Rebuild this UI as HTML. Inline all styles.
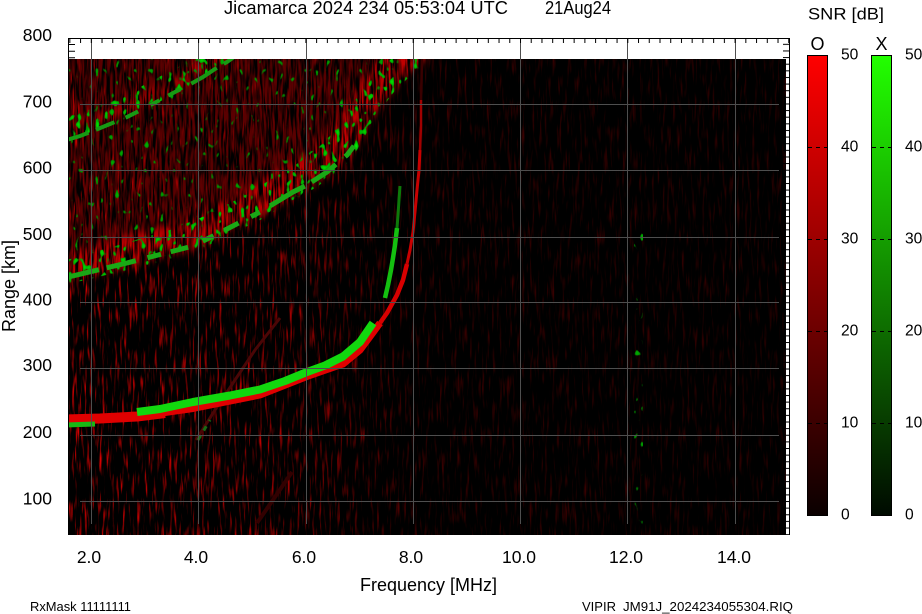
<!DOCTYPE html>
<html><head><meta charset="utf-8">
<style>
html,body{margin:0;padding:0;background:#fff;}
svg{display:block;}
text{font-family:"Liberation Sans",Arial,sans-serif;fill:#000;}
</style></head>
<body>
<svg width="922" height="614" viewBox="0 0 922 614" xmlns="http://www.w3.org/2000/svg">
<defs>
<clipPath id="img"><rect x="69" y="59" width="717" height="476"/></clipPath>
<filter id="nz" filterUnits="userSpaceOnUse" x="69" y="59" width="717" height="476" color-interpolation-filters="sRGB">
 <feTurbulence type="fractalNoise" baseFrequency="0.4 0.04" numOctaves="2" seed="7"/>
 <feColorMatrix type="matrix" values="3.2 0 0 0 -1.72  0 0 0 0 0  0 0 0 0 0  0 0 0 0 1"/>
</filter>
<filter id="band" filterUnits="userSpaceOnUse" x="69" y="59" width="717" height="476" color-interpolation-filters="sRGB">
 <feGaussianBlur in="SourceGraphic" stdDeviation="4" result="b"/>
 <feTurbulence type="fractalNoise" baseFrequency="0.45 0.04" numOctaves="2" seed="13" result="t"/>
 <feColorMatrix in="t" type="matrix" values="0 0 0 0 0  0 0 0 0 0  0 0 0 0 0  3.6 0 0 0 -1.35" result="m"/>
 <feComposite in="b" in2="m" operator="in"/>
</filter>
<filter id="gs1" filterUnits="userSpaceOnUse" x="69" y="59" width="717" height="476" color-interpolation-filters="sRGB">
 <feTurbulence type="fractalNoise" baseFrequency="0.22 0.14" numOctaves="1" seed="4" result="t"/>
 <feColorMatrix in="t" type="matrix" values="0 0 0 0 0  1.6 0 0 0 -0.4  0 0 0 0 0  14 0 0 0 -8.2" result="m"/>
 <feComposite in="m" in2="SourceGraphic" operator="in"/>
</filter>
<filter id="gs2" filterUnits="userSpaceOnUse" x="69" y="59" width="717" height="476" color-interpolation-filters="sRGB">
 <feTurbulence type="fractalNoise" baseFrequency="0.2 0.12" numOctaves="1" seed="21" result="t"/>
 <feColorMatrix in="t" type="matrix" values="0 0 0 0 0  1.3 0 0 0 -0.38  0 0 0 0 0  14 0 0 0 -9.3" result="m"/>
 <feComposite in="m" in2="SourceGraphic" operator="in"/>
</filter>
<linearGradient id="dk" gradientUnits="userSpaceOnUse" x1="69" y1="0" x2="786" y2="0">
 <stop offset="0" stop-color="#000" stop-opacity="0.05"/>
 <stop offset="0.3" stop-color="#000" stop-opacity="0.3"/>
 <stop offset="0.48" stop-color="#000" stop-opacity="0.75"/>
 <stop offset="1" stop-color="#000" stop-opacity="0.82"/>
</linearGradient>
<linearGradient id="rg" x1="0" y1="0" x2="0" y2="1"><stop offset="0" stop-color="#ff0000"/><stop offset="1" stop-color="#0a0000"/></linearGradient>
<linearGradient id="gg" x1="0" y1="0" x2="0" y2="1"><stop offset="0" stop-color="#22ff00"/><stop offset="1" stop-color="#000a00"/></linearGradient>
<pattern id="tt" patternUnits="userSpaceOnUse" x="69.34" y="0" width="10.73" height="10"><rect x="0" y="0" width="1" height="10" fill="#000"/></pattern>
<pattern id="rt" patternUnits="userSpaceOnUse" x="0" y="37.2" width="10" height="6.626"><rect width="10" height="1" fill="#000"/></pattern>
</defs>

<!-- image area -->
<rect x="69" y="59" width="717" height="476" fill="#000"/>
<rect x="69" y="59" width="717" height="476" filter="url(#nz)"/>
<rect x="69" y="59" width="717" height="476" fill="url(#dk)"/>

<g clip-path="url(#img)">
 <!-- diffuse bands -->
 <g filter="url(#band)">
  <polygon fill="#5a0000" points="60,283 127,267 193,250 227,233 260,217 293,197 307,190 327,177 347,160 360,143 373,117 393,90 413,70 430,55 60,55"/>
  <polygon fill="#c00000" points="60,283 127,267 193,250 227,233 260,217 293,197 307,190 327,177 347,160 360,143 373,117 393,90 413,70 430,55 407,37 393,48 370,70 348,101 334,127 325,139 309,153 278,171 246,191 214,206 183,222 119,238 60,254"/>
  <polyline fill="none" stroke="#a00000" stroke-width="12" points="60,134 80,127 93,122 110,115 127,108 145,99 160,91 175,83 187,77 203,68 215,60 227,53"/>
 </g>
 <!-- green speckles -->
 <g filter="url(#gs1)">
  <polygon fill="#fff" points="60,286 127,270 193,253 227,236 260,220 293,200 307,193 327,180 347,163 360,146 373,120 393,93 413,73 430,58 405,45 370,80 348,110 334,132 320,146 300,162 270,180 240,198 205,216 170,230 119,245 60,262"/>
  <polyline fill="none" stroke="#fff" stroke-width="22" points="60,130 80,124 93,120 110,113 127,106 145,97 160,89 175,81 187,75 203,66 215,58"/>
 </g>
 <g filter="url(#gs2)">
  <polygon fill="#fff" points="60,262 119,245 170,230 205,216 240,198 270,180 300,162 320,146 334,132 348,110 370,80 400,55 60,55"/>
  <rect x="634" y="230" width="9" height="305" fill="#fff"/>
 </g>

 <!-- bright edges of bands -->
 <polyline fill="none" stroke="#1aa816" stroke-width="5" stroke-dasharray="40 8 30 12 14 10 18 16 12 12 16 14 10 12" points="60,279 127,263 193,246 227,229 260,212 293,192 307,185 327,172 347,155 360,138"/>
 <polyline fill="none" stroke="#179a14" stroke-width="4" stroke-dasharray="30 8 20 12 14 14 10 10 14 12" points="60,142 80,136 93,131 110,124 127,117 145,108 160,100 175,92 187,86 203,77 215,69 227,62 234,57"/>

 <!-- faint traces -->
 <polyline fill="none" stroke="#4a0606" stroke-width="3" points="196,440 215,410 235,380 255,350 280,318"/>
 <polyline fill="none" stroke="#1a6a14" stroke-width="3" stroke-dasharray="5 6" points="198,440 210,420"/>
 <polyline fill="none" stroke="#320000" stroke-width="4" points="257,523 275,497 292,472"/>

 <!-- main O trace (red) -->
 <polyline fill="none" stroke="#e00000" stroke-width="10" stroke-linejoin="round" points="66,419.5 100,418.5 137,416.5 165,413"/>
 <polyline fill="none" stroke="#e00000" stroke-width="7" stroke-linejoin="round" points="137,416.5 193,408.5 260,395 307,376.5 343,364 360,350 373,332.5 380,323"/>
 <polyline fill="none" stroke="#d80000" stroke-width="4.5" stroke-linejoin="round" points="380,323 387,313 397,295 403,280 407,264"/>
 <polyline fill="none" stroke="#c80000" stroke-width="3" stroke-linejoin="round" points="407,264 410,250 413,232 415,212 417,190 419,170 420,150"/>
 <polyline fill="none" stroke="#a00000" stroke-width="2.5" points="420,150 421,125 421,100"/>
 <polyline fill="none" stroke="#3a0000" stroke-width="2.5" points="421,100 422,59"/>
 <!-- X trace (green) -->
 <polyline fill="none" stroke="#18b815" stroke-width="5" points="66,425 95,424"/>
 <polyline fill="none" stroke="#12d80e" stroke-width="8" stroke-linejoin="round" points="137,412 160,409 193,402 230,395.5 260,389.5 285,381 307,372 325,365.5 343,356.5 360,342 373,323"/>
 <polyline fill="none" stroke="#14c010" stroke-width="4.5" stroke-linejoin="round" points="385,298 388,285 391,270 393,258 395,245 397,228"/>
 <polyline fill="none" stroke="#0d7a0a" stroke-width="3" stroke-linejoin="round" points="397,228 398,215 399,200 400,186"/>
</g>

<!-- grid -->
<g stroke="#4e4e4e" stroke-width="1" fill="none">
 <path d="M91.5 38V524M198.5 38V524M306.5 38V524M413.5 38V524M520.5 38V524M627.5 38V524M735.5 38V524"/>
 <path d="M80 104.5H779M80 170.5H779M80 237.5H779M80 302.5H779M80 368.5H779M80 435.5H779M80 501.5H779"/>
</g>

<!-- axes and ticks -->
<rect x="68" y="38" width="721" height="5" fill="url(#tt)"/>
<rect x="783" y="38" width="6" height="497" fill="url(#rt)"/>
<path d="M68 44.5H75M68 51.2H75M68 57.8H75" stroke="#000" stroke-width="1"/>
<path d="M68.5 38V535M68 38.5H790M789.5 38V535" stroke="#000" stroke-width="1" fill="none"/>

<!-- title -->
<text x="224" y="14" font-size="18" textLength="284" lengthAdjust="spacingAndGlyphs">Jicamarca 2024 234 05:53:04 UTC</text>
<text x="545" y="14" font-size="18" textLength="66" lengthAdjust="spacingAndGlyphs">21Aug24</text>

<!-- y tick labels -->
<g font-size="17.5" text-anchor="end">
 <text x="52" y="41">800</text>
 <text x="52" y="107.5">700</text>
 <text x="52" y="173.5">600</text>
 <text x="52" y="240">500</text>
 <text x="52" y="305.5">400</text>
 <text x="52" y="371">300</text>
 <text x="52" y="438">200</text>
 <text x="52" y="504.5">100</text>
</g>
<!-- x tick labels -->
<g font-size="17.5" text-anchor="middle">
 <text x="89" y="563">2.0</text>
 <text x="196" y="563">4.0</text>
 <text x="304" y="563">6.0</text>
 <text x="411" y="563">8.0</text>
 <text x="519" y="563">10.0</text>
 <text x="626" y="563">12.0</text>
 <text x="734" y="563">14.0</text>
</g>
<text x="360" y="591" font-size="18" textLength="137" lengthAdjust="spacingAndGlyphs">Frequency [MHz]</text>
<text transform="translate(15,286) rotate(-90)" text-anchor="middle" font-size="18">Range [km]</text>

<!-- footer -->
<text x="30" y="611" font-size="12.5" textLength="101" lengthAdjust="spacingAndGlyphs">RxMask 11111111</text>
<text x="582" y="611" font-size="12.5" textLength="34" lengthAdjust="spacingAndGlyphs">VIPIR</text>
<text x="623" y="611" font-size="12.5" textLength="170" lengthAdjust="spacingAndGlyphs">JM91J_2024234055304.RIQ</text>

<!-- colorbars -->
<text x="808" y="19.5" font-size="17" textLength="76" lengthAdjust="spacingAndGlyphs">SNR [dB]</text>
<text x="817.5" y="50" font-size="18" text-anchor="middle">O</text>
<text x="881.5" y="50" font-size="18" text-anchor="middle">X</text>
<rect x="807.5" y="55.5" width="20" height="460" fill="url(#rg)" stroke="#000" stroke-width="1"/>
<rect x="871.5" y="55.5" width="20" height="460" fill="url(#gg)" stroke="#000" stroke-width="1"/>
<g stroke="#000" stroke-width="1" stroke-dasharray="4 4">
 <path d="M808 147.5H827M808 239.5H827M808 331.5H827M808 423.5H827"/>
 <path d="M872 147.5H891M872 239.5H891M872 331.5H891M872 423.5H891"/>
</g>
<g font-size="15.6" style="fill:#222">
 <text x="841" y="59.5">50</text>
 <text x="841" y="151.5">40</text>
 <text x="841" y="243.5">30</text>
 <text x="841" y="335.5">20</text>
 <text x="841" y="427.5">10</text>
 <text x="841" y="519.5">0</text>
 <text x="905" y="59.5">50</text>
 <text x="905" y="151.5">40</text>
 <text x="905" y="243.5">30</text>
 <text x="905" y="335.5">20</text>
 <text x="905" y="427.5">10</text>
 <text x="905" y="519.5">0</text>
</g>
</svg>
</body></html>
